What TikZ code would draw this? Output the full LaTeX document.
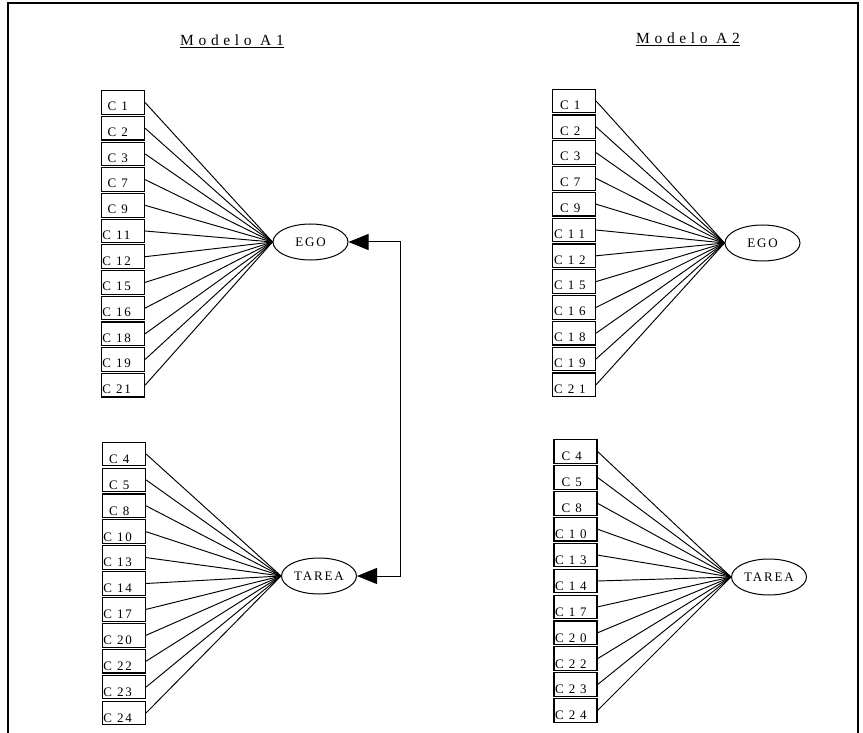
\documentclass[tikz,border=0pt]{standalone}
\usepackage{fontspec}
\setmainfont{Liberation Serif}
\newfontfamily\lsA[LetterSpace=14]{Liberation Serif}
\newfontfamily\lsB[LetterSpace=38]{Liberation Serif}
\newfontfamily\lsT[LetterSpace=30]{Liberation Serif}
\usetikzlibrary{shapes.geometric,arrows.meta,calc}
\begin{document}
\begin{tikzpicture}[x=1pt,y=-1pt,
  cbox/.style={draw,line width=1.1pt,minimum width=43pt,minimum height=23.6pt,inner sep=0pt},
  clab/.style={anchor=base west,inner sep=0pt,font=\fontsize{13}{15}\selectfont},
  lat/.style={draw,line width=1pt,ellipse,minimum width=75pt,minimum height=36pt,inner sep=0pt,font=\fontsize{13}{15}\lsA},
  load/.style={line width=0.95pt},
  ttl/.style={inner sep=0pt,anchor=base west,font=\fontsize{15.5}{18}\lsT},
  frame/.style={line width=1.8pt}
]
\useasboundingbox (0,0) rectangle (863,733);
% frame
\coordinate (f1) at (8,733);
\coordinate (f2) at (8,3);
\coordinate (f3) at (858,3);
\coordinate (f4) at (858,733);
\draw[frame] (f1) -- (f2) -- (f3) -- (f4);
% titles
\node[ttl] (t1) at (180,46) {\underline{Modelo A1}};
\node[ttl] (t2) at (636,44) {\underline{Modelo A2}};
% latent variables
\node[lat] (egoL) at (310.5,242) {EGO};
\node[lat,text depth=-2pt] (tarL) at (319,576) {TAREA};
\node[lat] (egoR) at (762.5,243) {EGO};
\node[lat,text depth=-2pt] (tarR) at (769,577) {TAREA};
% Model A1, EGO
\foreach \lab [count=\i] in {1,2,3,7,9,11,12,15,16,18,19,21} {
  \pgfmathsetmacro\off{\lab>9 ? 1.2 : 6.5}
  \node[cbox] (LE\i) at (123,{102.5+(\i-1)*25.7}) {};
  \node[clab] (LEt\i) at ($(LE\i.south west)+(\off,-4)$) {\lsA C \lab};
  \draw[load] (LE\i.east) -- (egoL.west);
}
% Model A1, TAREA
\foreach \lab [count=\i] in {4,5,8,10,13,14,17,20,22,23,24} {
  \pgfmathsetmacro\off{\lab>9 ? 1.2 : 7}
  \node[cbox] (LT\i) at (124,{454+(\i-1)*25.9}) {};
  \node[clab] (LTt\i) at ($(LT\i.south west)+(\off,-3)$) {\lsA C \lab};
  \draw[load] (LT\i.east) -- (tarL.west);
}
% Model A2, EGO
\foreach \lab [count=\i] in {1,2,3,7,9,11,12,15,16,18,19,21} {
  \pgfmathsetmacro\off{\lab>9 ? 2 : 8}
  \node[cbox] (RE\i) at (574,{101+(\i-1)*25.8}) {};
  \ifnum\lab>9
    \node[clab] (REt\i) at ($(RE\i.south west)+(\off,-4)$) {\lsB C\lab};
  \else
    \node[clab] (REt\i) at ($(RE\i.south west)+(\off,-4)$) {\lsA C \lab};
  \fi
  \draw[load] (RE\i.east) -- (egoR.west);
}
% Model A2, TAREA
\foreach \lab [count=\i] in {4,5,8,10,13,14,17,20,22,23,24} {
  \pgfmathsetmacro\off{\lab>9 ? 1.5 : 8}
  \node[cbox] (RT\i) at (575.5,{451.5+(\i-1)*25.9}) {};
  \ifnum\lab>9
    \node[clab] (RTt\i) at ($(RT\i.south west)+(\off,-3)$) {\lsB C\lab};
  \else
    \node[clab] (RTt\i) at ($(RT\i.south west)+(\off,-3)$) {\lsA C \lab};
  \fi
  \draw[load] (RT\i.east) -- (tarR.west);
}
% correlation
\coordinate (xline) at (400,0);
\draw[line width=1pt,{Triangle[length=20pt,width=16pt]}-{Triangle[length=20pt,width=16pt]}]
  (egoL.east) -- (egoL.east -| xline) |- (tarL.east);
\end{tikzpicture}
\end{document}
